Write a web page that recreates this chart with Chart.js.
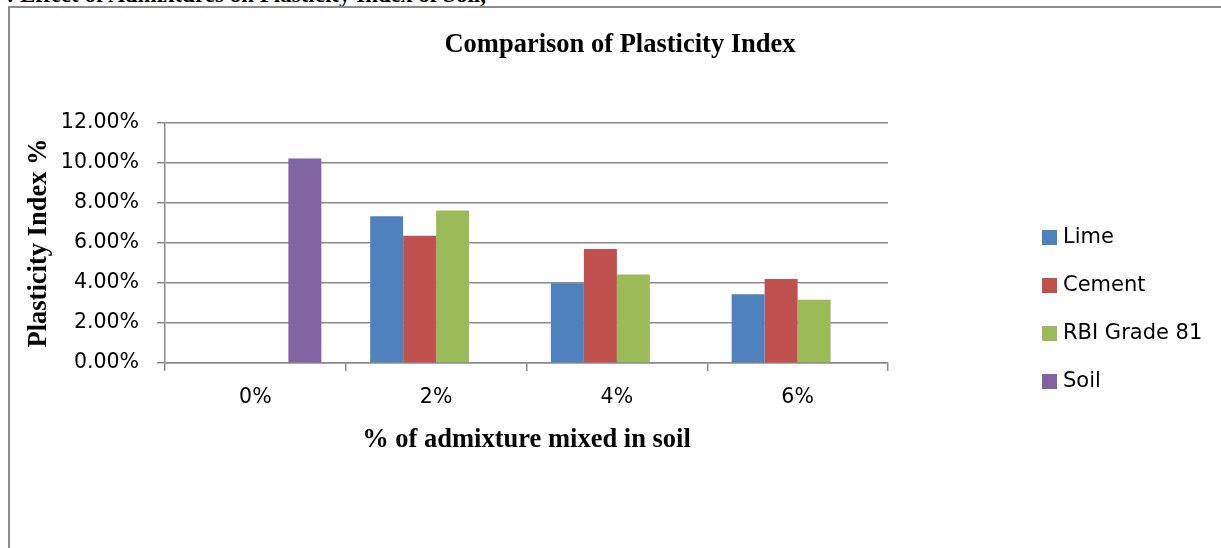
<!DOCTYPE html>
<html>
<head>
<meta charset="utf-8">
<script src="https://cdn.jsdelivr.net/npm/chart.js@4.4.1/dist/chart.umd.min.js"></script>
<style>
  html, body { margin: 0; padding: 0; background: #fff; overflow: hidden; }
  #wrap { position: relative; width: 1221px; height: 548px; }
  #frame { position: absolute; left: 8px; top: 6px; right: -10px; bottom: -10px; border: 2px solid #8c8c8c; box-sizing: border-box; }
  #caption { position: absolute; top: -17px; left: 0; font: bold 23px "Liberation Serif", "Times New Roman", serif; line-height: 23px; white-space: nowrap; color: #000; }
  #chart { position: absolute; left: 0; top: 0; }
</style>
</head>
<body>
<div id="wrap">
  <div id="caption"><span id="capPrefix">Fig. 4 : </span>Effect of Admixtures on Plasticity Index of Soil,</div>
  <div id="frame"></div>
  <canvas id="chart" width="1221" height="548"></canvas>
</div>
<script>
const categories = ['0%', '2%', '4%', '6%'];
const seriesNames = ['Lime', 'Cement', 'RBI Grade 81', 'Soil'];
const lime   = [null, 0.0734, 0.0399, 0.0344];
const cement = [null, 0.0636, 0.0570, 0.0420];
const rbi    = [null, 0.0762, 0.0442, 0.0316];
const soil   = [0.1022, null, null, null];
const yTicks = [0, 0.02, 0.04, 0.06, 0.08, 0.10, 0.12];
const chartTitle = 'Comparison of Plasticity Index';
const colors = ['#4F81BD', '#C0504D', '#9BBB59', '#8064A2'];

// caption placement: "Effect" starts near x=20
const pre = document.getElementById('capPrefix');
document.getElementById('caption').style.left = (20 - pre.getBoundingClientRect().width) + 'px';

const tickFont = { family: '"DejaVu Sans", sans-serif', size: 20.5 };
const titleFont = { family: '"Liberation Serif", "Times New Roman", serif', size: 26.5, weight: 'bold' };

const decorPlugin = {
  id: 'decor',
  afterDraw(chart) {
    const ctx = chart.ctx;
    ctx.save();
    // chart title, centred on the whole frame
    ctx.font = 'bold 26.5px "Liberation Serif", "Times New Roman", serif';
    ctx.textAlign = 'center';
    ctx.textBaseline = 'alphabetic';
    ctx.fillStyle = '#000';
    ctx.fillText(chartTitle, 620, 52);
    // legend
    ctx.textAlign = 'left';
    ctx.font = '21px "DejaVu Sans", sans-serif';
    ctx.textBaseline = 'middle';
    chart.data.datasets.forEach((ds, i) => {
      const y = 237 + i * 48;
      ctx.fillStyle = ds.backgroundColor;
      ctx.fillRect(1042, y - 7, 15, 15);
      ctx.fillStyle = '#000';
      ctx.fillText(ds.label, 1063, y + 1);
    });
    ctx.restore();
  }
};

const datasets = [lime, cement, rbi, soil].map((d, i) => ({
  label: seriesNames[i],
  data: d,
  backgroundColor: colors[i],
  borderWidth: 0,
  categoryPercentage: 0.73,
  barPercentage: 1.0
}));

new Chart(document.getElementById('chart'), {
  type: 'bar',
  data: { labels: categories, datasets },
  options: {
    responsive: false,
    animation: false,
    devicePixelRatio: 1,
    layout: { padding: { left: 0, right: 333, top: 123, bottom: 0 } },
    plugins: {
      legend: { display: false },
      tooltip: { enabled: false },
      title: { display: false }
    },
    scales: {
      x: {
        grid: { display: true, drawOnChartArea: false, drawTicks: true, tickLength: 8, color: '#8a8a8a', lineWidth: 1.5, offset: true },
        border: { display: true, color: '#8a8a8a', width: 1.5 },
        ticks: { font: tickFont, color: '#000', padding: 14, maxRotation: 0 },
        title: { display: true, text: '% of admixture mixed in soil', font: titleFont, color: '#000', padding: { top: 0, bottom: 92 } },
        afterFit(scale) { scale.height = 185; }
      },
      y: {
        min: 0,
        max: 0.12,
        afterBuildTicks(scale) { scale.ticks = yTicks.map(v => ({ value: v })); },
        grid: { color: '#8a8a8a', lineWidth: 1.5, drawTicks: true, tickLength: 8 },
        border: { display: true, color: '#8a8a8a', width: 1.5 },
        ticks: { font: tickFont, color: '#000', padding: 18, callback: v => (v * 100).toFixed(2) + '%' },
        title: { display: true, text: 'Plasticity Index %', font: titleFont, color: '#000', padding: { top: 23, bottom: 0 } },
        afterFit(scale) { scale.width = 165; }
      }
    }
  },
  plugins: [decorPlugin]
});
</script>
</body>
</html>
